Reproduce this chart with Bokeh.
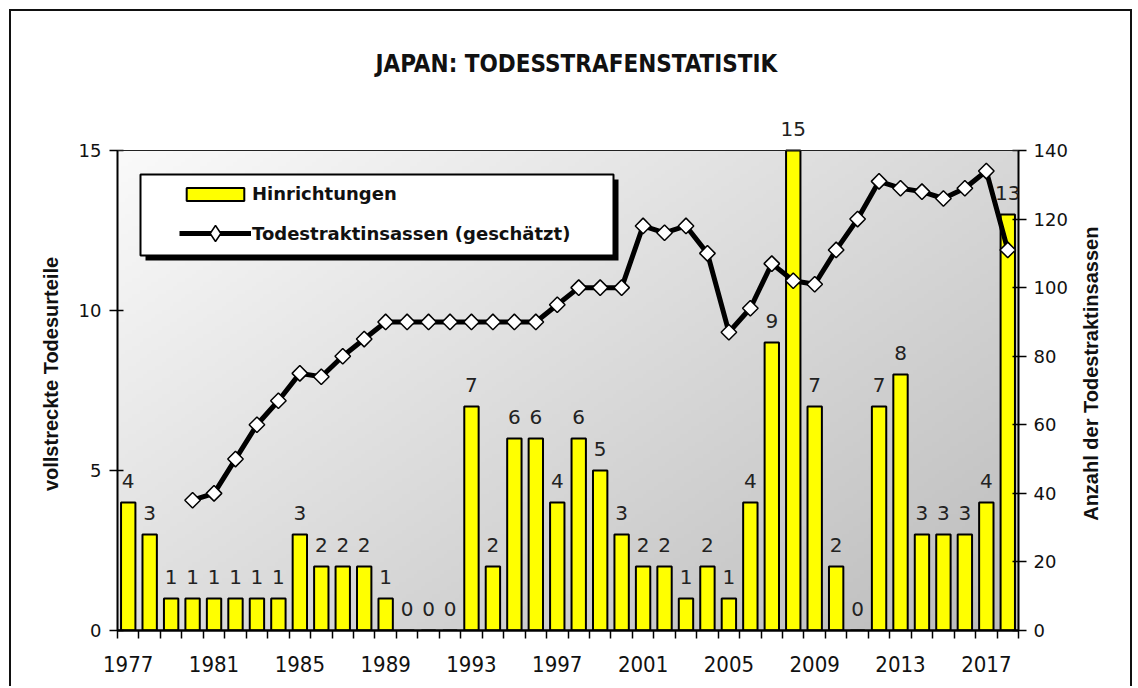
import numpy as np
from bokeh.plotting import figure
from bokeh.models import (ColumnDataSource, Range1d, LinearAxis, FixedTicker,
                          LabelSet, Legend, LegendItem, BoxAnnotation, Span)
from bokeh.core.properties import value
from bokeh.embed import file_html
from bokeh.resources import INLINE

# ---------------- data ----------------
years = list(range(1977, 2019))
executions = [4, 3, 1, 1, 1, 1, 1, 1, 3, 2, 2, 2, 1, 0, 0, 0, 7, 2, 6, 6, 4,
              6, 5, 3, 2, 2, 1, 2, 1, 4, 9, 15, 7, 2, 0, 7, 8, 3, 3, 3, 4, 13]
nan = float("nan")
death_row = [nan, nan, nan, 38, 40, 50, 60, 67, 75, 74, 80, 85, 90, 90, 90, 90,
             90, 90, 90, 90, 95, 100, 100, 100, 118, 116, 118, 110, 87, 94,
             107, 102, 101, 111, 120, 131, 129, 128, 126, 129, 134, 111]
xtick_years = [1977, 1981, 1985, 1989, 1993, 1997, 2001, 2005, 2009, 2013, 2017]
left_ticks = [0, 5, 10, 15]
right_ticks = [0, 20, 40, 60, 80, 100, 120, 140]

title_text = "JAPAN: TODESSTRAFENSTATISTIK"
left_label = "vollstreckte Todesurteile"
right_label = "Anzahl der Todestraktinsassen"
bar_name = "Hinrichtungen"
line_name = "Todestraktinsassen (geschätzt)"

NARROW = "DejaVu Sans Condensed, Liberation Sans Narrow, Roboto Condensed, Arial Narrow, sans-serif"

# ---------------- figure ----------------
x0, x1 = years[0] - 0.5, years[-1] + 0.5
y_max = left_ticks[-1]
r_max = right_ticks[-1]
head = 33 / 32.0          # white head-room above the plot area (in left units)
p = figure(width=1123, height=677,
           x_range=Range1d(x0, x1), y_range=Range1d(0, y_max + head),
           output_backend="svg", toolbar_location=None,
           min_border_left=106, min_border_right=116,
           min_border_top=106, min_border_bottom=58)
p.styles = {"margin-left": "9px", "margin-top": "9px",
            "border-top": "2px solid #111", "border-left": "2px solid #111",
            "border-right": "2px solid #111"}
p.extra_y_ranges = {"right": Range1d(0, r_max * (y_max + head) / y_max)}
p.xgrid.visible = False
p.ygrid.visible = False
p.background_fill_color = "white"
p.border_fill_color = "white"
p.outline_line_color = None

# gradient background of plot area
nx, ny = 240, 120
u = np.linspace(0, 1, nx)[None, :]
v = np.linspace(0, 1, ny)[:, None]
t = (u * 0.55 + (1 - v) * 0.45)
g = (250 - t * 62).astype(np.uint8)
img = np.empty((ny, nx), dtype=np.uint32)
view = img.view(dtype=np.uint8).reshape((ny, nx, 4))
view[:, :, 0] = g
view[:, :, 1] = g
view[:, :, 2] = g
view[:, :, 3] = 255
p.image_rgba(image=[img], x=x0, y=0, dw=x1 - x0, dh=y_max)
p.add_layout(Span(location=y_max, dimension="width", line_color="#222",
                  line_width=1))

src = ColumnDataSource(dict(year=years, executions=executions,
                            death_row=death_row,
                            label=[str(v) for v in executions]))

bars = p.vbar(x="year", top="executions", width=0.67, source=src,
              fill_color="#FFFF00", line_color="black", line_width=2)
line = p.line(x="year", y="death_row", source=src, y_range_name="right",
              line_color="black", line_width=5, line_join="round")
pts = p.scatter(x="year", y="death_row", source=src, y_range_name="right",
                marker="square", angle=np.pi / 4, size=11,
                fill_color="white", line_color="black", line_width=1.5)
# diamond used for the legend entry only (a single NaN point, never drawn)
legend_marker = p.scatter(x=[nan], y=[nan], y_range_name="right",
                          marker="diamond", fill_color="white",
                          line_color="black", line_width=1.5)

labels = LabelSet(x="year", y="executions", text="label", source=src,
                  y_offset=15, text_align="center", text_baseline="alphabetic",
                  text_font=value("DejaVu Sans"), text_font_size="20px",
                  text_color="#222")
p.add_layout(labels)

# ---------------- axes ----------------
xa = p.xaxis[0]
xa.ticker = FixedTicker(ticks=xtick_years,
                        minor_ticks=[y - 0.5 for y in years] + [x1])
xa.major_tick_out = 0
xa.major_tick_in = 0
xa.minor_tick_out = 8
xa.minor_tick_in = 0
xa.minor_tick_line_color = "black"
xa.minor_tick_line_width = 1.5
xa.axis_line_width = 2.5
xa.axis_line_color = "black"
xa.major_label_standoff = 17
xa.major_label_text_font = NARROW
xa.major_label_text_font_size = "22px"
xa.major_label_text_color = "#111"

ya = p.yaxis[0]
ya.ticker = FixedTicker(ticks=left_ticks)
ya.bounds = (0, y_max)
ya.minor_tick_line_color = None
ya.major_tick_in = 6
ya.major_tick_out = 8
ya.major_tick_line_width = 1.5
ya.axis_line_width = 2
ya.major_label_standoff = 8
ya.major_label_text_font = "DejaVu Sans"
ya.major_label_text_font_size = "18px"
ya.major_label_text_color = "#111"
ya.axis_label = left_label
ya.axis_label_text_font = "Liberation Sans"
ya.axis_label_text_font_style = "bold"
ya.axis_label_text_font_size = "20px"
ya.axis_label_text_color = "#111"
ya.axis_label_standoff = 14

ra = LinearAxis(y_range_name="right", ticker=FixedTicker(ticks=right_ticks),
                bounds=(0, r_max))
ra.minor_tick_line_color = None
ra.major_tick_in = 6
ra.major_tick_out = 8
ra.major_tick_line_width = 1.5
ra.axis_line_width = 2
ra.major_label_standoff = 7
ra.major_label_text_font = "DejaVu Sans"
ra.major_label_text_font_size = "18px"
ra.major_label_text_color = "#111"
p.add_layout(ra, "right")

# right-hand title, written bottom-to-top, starting near the 32 mark
right_title_start = 32
rt = LinearAxis(y_range_name="right",
                ticker=FixedTicker(ticks=[right_title_start]),
                major_label_overrides={right_title_start: right_label})
rt.axis_line_color = None
rt.major_tick_line_color = None
rt.minor_tick_line_color = None
rt.major_tick_in = 0
rt.major_tick_out = 0
rt.major_label_orientation = np.pi / 2
rt.major_label_standoff = 21
rt.major_label_text_font = "Liberation Sans"
rt.major_label_text_font_style = "bold"
rt.major_label_text_font_size = "20px"
rt.major_label_text_color = "#111"
p.add_layout(rt, "right")

# ---------------- title ----------------
p.title.text = title_text
p.title.align = "left"
p.title.offset = 258
p.title.vertical_align = "top"
p.title.text_font = NARROW
p.title.text_font_style = "bold"
p.title.text_font_size = "24px"
p.title.text_color = "#111"
p.title.standoff = 76

# ---------------- legend ----------------
FR_W = 901.0
ppx = FR_W / (x1 - x0)
ppy = 32.0
def fx(px):
    return x0 + px / ppx
def fy(py):
    return y_max - py / ppy

box_l, box_t, box_r, box_b = 23, 24, 496, 105
sh = 5
shadow = BoxAnnotation(left=fx(box_l + sh), right=fx(box_r + sh),
                       top=fy(box_t + sh), bottom=fy(box_b + sh),
                       fill_color="black", fill_alpha=1, line_color=None)
box = BoxAnnotation(left=fx(box_l), right=fx(box_r), top=fy(box_t),
                    bottom=fy(box_b), fill_color="white", fill_alpha=1,
                    line_color="black", line_alpha=1, line_width=2)
p.add_layout(shadow)
p.add_layout(box)

common = dict(margin=0, padding=0, border_line_color=None,
              background_fill_alpha=0, glyph_width=72, label_standoff=1,
              label_text_font="DejaVu Sans", label_text_font_style="bold",
              label_text_font_size="18px", label_text_color="#111")
legend1 = Legend(items=[LegendItem(label=bar_name, renderers=[bars])],
                 location=(62, 426), glyph_height=16, label_height=16,
                 **common)
legend2 = Legend(items=[LegendItem(label=line_name,
                                   renderers=[line, legend_marker])],
                 location=(62, 377), glyph_height=40, label_height=16,
                 **common)
p.add_layout(legend1)
p.add_layout(legend2)

open("out.html", "w").write(file_html(p, INLINE))
